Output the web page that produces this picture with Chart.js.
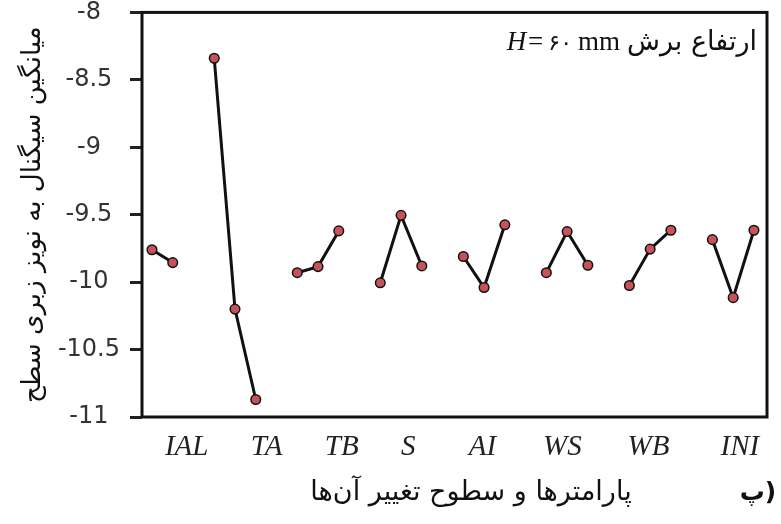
<!DOCTYPE html>
<html>
<head>
<meta charset="utf-8">
<script src="https://cdn.jsdelivr.net/npm/chart.js@4.4.0/dist/chart.umd.min.js"></script>
<style>
  html, body { margin: 0; padding: 0; background: #fff; }
  #wrap { width: 781px; height: 524px; }
</style>
</head>
<body>
<div id="wrap"><canvas id="chart" width="781" height="524"></canvas></div>
<script>
// parameter groups, left to right
const groups = ['IAL', 'TA', 'TB', 'S', 'AI', 'WS', 'WB', 'INI'];

// mean S/N ratio of surface roughness at each level
const IAL = [-9.76, -9.855];
const TA  = [-8.34, -10.2, -10.87];
const TB  = [-9.93, -9.885, -9.62];
const S   = [-10.005, -9.505, -9.88];
const AI  = [-9.81, -10.04, -9.575];
const WS  = [-9.93, -9.625, -9.875];
const WB  = [-10.025, -9.755, -9.615];
const INI = [-9.685, -10.115, -9.615];
const levels = [IAL, TA, TB, S, AI, WS, WB, INI];

// y axis ticks
const yTicks = [-8, -8.5, -9, -9.5, -10, -10.5, -11];

// where each group name sits along the level axis (in level slots)
const labelSlots = [1.67, 5.52, 9.14, 12.35, 15.92, 19.77, 23.92, 28.32];

const yTitle = 'میانگین سیگنال به نویز زبری سطح';
const xTitle = 'پارامترها و سطوح تغییر آن‌ها';
const panelTag = 'پ)';
const noteFa = 'ارتفاع برش';
const noteDigits = '۶۰';

// one dataset per group, one empty slot between groups
let slot = 0;
const datasets = levels.map((vals, g) => {
  const start = slot;
  slot += vals.length + 1;
  return {
    label: groups[g],
    data: vals.map((v, i) => ({ x: start + i, y: v })),
    borderColor: '#111',
    borderWidth: 3,
    pointRadius: 4.8,
    pointBackgroundColor: '#c8525a',
    pointBorderColor: '#111',
    pointBorderWidth: 1.5,
    tension: 0
  };
});

// frame round the plot + the free texts
const frameAndNotes = {
  id: 'frameAndNotes',
  beforeDatasetsDraw(chart) {
    const { ctx, chartArea: a } = chart;
    ctx.save();
    ctx.strokeStyle = '#111';
    ctx.lineWidth = 3;
    ctx.strokeRect(a.left, a.top, a.right - a.left, a.bottom - a.top);
    ctx.restore();
  },
  afterDraw(chart) {
    const { ctx, chartArea: a } = chart;
    ctx.save();
    ctx.fillStyle = '#111';
    ctx.textBaseline = 'alphabetic';

    // x axis title
    ctx.font = '27px "DejaVu Sans"';
    ctx.textAlign = 'center';
    ctx.direction = 'rtl';
    ctx.fillText(xTitle, 471, 500);

    // panel tag
    ctx.direction = 'ltr';
    ctx.font = 'bold 25px "DejaVu Sans"';
    ctx.fillText(panelTag, 758, 500);

    // note in the top right corner, drawn right to left
    let x = a.right - 10;
    const y = 50;
    ctx.textAlign = 'right';
    ctx.font = '27px "DejaVu Sans"';
    ctx.direction = 'rtl';
    ctx.fillText(noteFa, x, y);
    x -= ctx.measureText(noteFa).width + 7;
    ctx.direction = 'ltr';
    ctx.font = '27px "Liberation Serif"';
    ctx.fillText('mm', x, y);
    x -= ctx.measureText('mm').width + 6;
    ctx.font = '22px "DejaVu Sans"';
    ctx.fillText(noteDigits, x, y);
    x -= ctx.measureText(noteDigits).width + 4;
    ctx.font = 'italic 27px "Liberation Serif"';
    ctx.fillText('H=', x, y);
    ctx.restore();
  }
};

new Chart(document.getElementById('chart'), {
  type: 'line',
  data: { datasets },
  options: {
    responsive: false,
    animation: false,
    devicePixelRatio: 1,
    layout: { padding: { top: 0, right: 14, left: 0, bottom: 0 } },
    plugins: {
      legend: { display: false },
      tooltip: { enabled: false }
    },
    scales: {
      x: {
        type: 'linear',
        min: -0.48,
        max: 29.63,
        grid: { display: false, drawTicks: false },
        border: { display: false },
        afterBuildTicks: (s) => { s.ticks = labelSlots.map(v => ({ value: v })); },
        afterFit: (s) => { s.height = 107; },
        ticks: {
          autoSkip: false,
          maxRotation: 0,
          padding: 13,
          color: '#222',
          font: { family: '"Liberation Serif"', style: 'italic', size: 29 },
          callback: (v, i) => groups[i]
        }
      },
      y: {
        min: -11,
        max: -8,
        grid: {
          display: true,
          drawOnChartArea: false,
          drawTicks: true,
          tickLength: 12,
          tickWidth: 3,
          tickColor: '#222'
        },
        border: { display: false },
        afterBuildTicks: (s) => { s.ticks = yTicks.map(v => ({ value: v })); },
        afterFit: (s) => { s.width = 142; },
        ticks: {
          crossAlign: 'center',
          padding: 10,
          color: '#333',
          // small line height keeps the top label from pushing the plot down
          font: { family: '"DejaVu Sans"', size: 24, lineHeight: 0.2 },
          callback: (v) => String(v)
        },
        title: {
          display: true,
          text: yTitle,
          color: '#111',
          font: { family: '"DejaVu Sans"', size: 26 },
          padding: { top: 18, bottom: 0 }
        }
      }
    }
  },
  plugins: [frameAndNotes]
});
</script>
</body>
</html>
